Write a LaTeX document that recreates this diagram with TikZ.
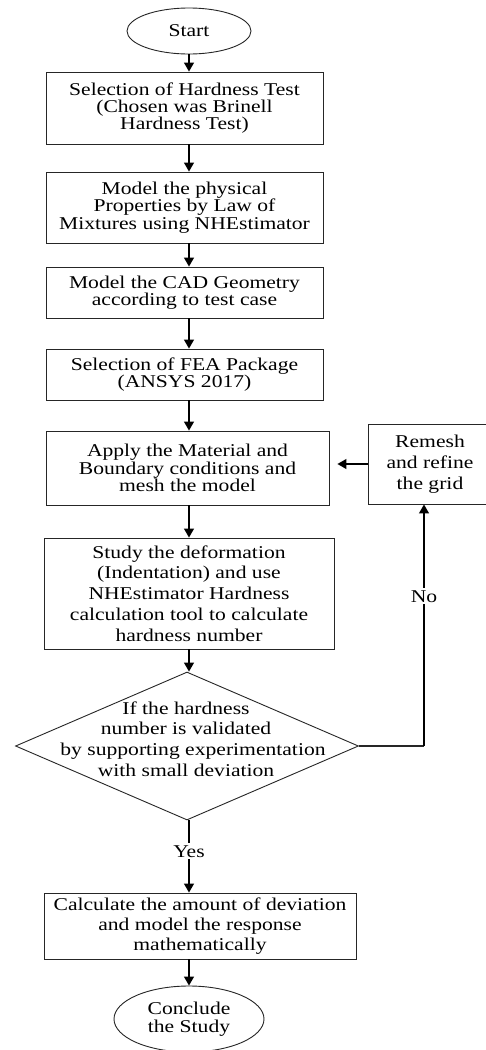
\documentclass[tikz,border=0pt]{standalone}
\usepackage{fontspec}
\setmainfont{Liberation Serif}[FakeStretch=1.2]
\usetikzlibrary{shapes.geometric,arrows.meta}
\tikzset{
  stepbox/.style={draw=black!85, line width=0.9pt, rectangle, align=center, inner sep=0pt,
    font=\fontsize{18}{17.4}\selectfont},
  loosebox/.style={stepbox, font=\fontsize{18}{20.8}\selectfont},
  term/.style={draw=black!85, line width=0.9pt, ellipse, align=center, inner sep=0pt,
    font=\fontsize{18}{18}\selectfont},
  arr/.style={line width=1.2pt, black, -{Triangle[length=9pt,width=10pt]}},
  plain/.style={line width=1.2pt, black!85},
  lbl/.style={fill=white, inner sep=2pt, font=\fontsize{18}{18}\selectfont}
}
\begin{document}
\begin{tikzpicture}[x=1pt,y=-1pt]
\useasboundingbox (0,0) rectangle (486,1050);
\fill[white] (0,0) rectangle (486,1050);
\coordinate (axis) at (189,0);
\coordinate (noxc) at (424,0);

\node[term, minimum width=124pt, minimum height=46pt] (start) at (189,31) {Start};
\node[stepbox, minimum width=277pt, minimum height=72pt] (b1) at (184.5,108)
  {Selection of Hardness Test\\(Chosen was Brinell\\Hardness Test)};
\node[stepbox, minimum width=277pt, minimum height=71pt] (b2) at (184.5,207.5)
  {Model the physical\\Properties by Law of\\Mixtures using NHEstimator};
\node[stepbox, minimum width=277pt, minimum height=51pt] (b3) at (184.5,292.5)
  {Model the CAD Geometry\\according to test case};
\node[stepbox, minimum width=277pt, minimum height=51pt] (b4) at (184.5,374.5)
  {Selection of FEA Package\\(ANSYS 2017)};
\node[stepbox, minimum width=283pt, minimum height=74pt] (b5) at (187.5,468)
  {Apply the Material and\\Boundary conditions and\\mesh the model};
\node[loosebox, minimum width=124pt, minimum height=80pt, font=\fontsize{18}{21}\selectfont] (remesh) at (430,464)
  {Remesh\\and refine\\the grid};
\node[loosebox, minimum width=290pt, minimum height=111pt] (b6) at (189,593.5)
  {Study the deformation\\(Indentation) and use\\NHEstimator Hardness\\calculation tool to calculate\\hardness number};
\node[draw=black!85, line width=0.9pt, diamond, minimum width=343pt, minimum height=148pt, inner sep=0pt] (dec) at (187,746) {};
\node[align=center, inner sep=0pt, font=\fontsize{18}{20.8}\selectfont] (dectext) at (186,739)
  {If the hardness\\number is validated\\\hspace*{14pt}by supporting experimentation\\with small deviation};
\node[stepbox, minimum width=312pt, minimum height=66pt, font=\fontsize{18}{20}\selectfont] (b7) at (200,926)
  {Calculate the amount of deviation\\and model the response\\mathematically};
\node[term, minimum width=150pt, minimum height=66pt, font=\fontsize{18}{18}\selectfont] (end) at (189,1019)
  {Conclude\\the Study};

\draw[arr] (start.south) -- (start.south |- b1.north);
\draw[arr] (b1.south -| axis) -- (b2.north -| axis);
\draw[arr] (b2.south -| axis) -- (b3.north -| axis);
\draw[arr] (b3.south -| axis) -- (b4.north -| axis);
\draw[arr] (b4.south -| axis) -- (b5.north -| axis);
\draw[arr] (b5.south -| axis) -- (b6.north -| axis);
\draw[arr] (b6.south -| axis) -- (dec.north -| axis);
\draw[arr] (dec.south -| axis) -- node[lbl, pos=0.43] {Yes} (b7.north -| axis);
\draw[arr] (b7.south -| axis) -- (end.north);
\draw[plain] (dec.east) -- (dec.east -| noxc);
\draw[arr] (dec.east -| noxc) -- node[lbl, pos=0.62] {No} (noxc |- remesh.south);
\draw[arr, shorten >=8pt] (remesh.west) -- (remesh.west -| b5.east);
\end{tikzpicture}
\end{document}
